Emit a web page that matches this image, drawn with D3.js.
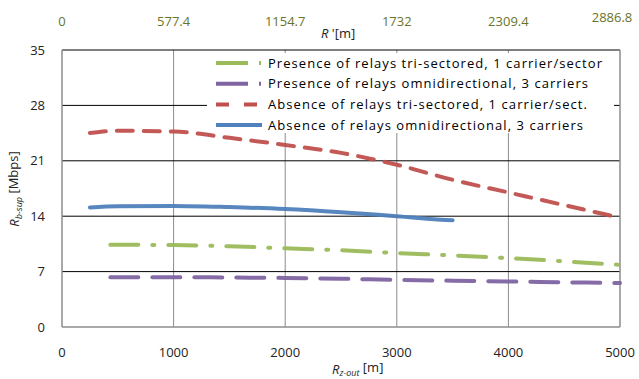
<!DOCTYPE html>
<html>
<head>
<meta charset="utf-8">
<script src="https://cdn.jsdelivr.net/npm/d3@7"></script>
<style>
  html, body { margin: 0; padding: 0; background: #fff; }
  svg { display: block; font-family: "Open Sans", "Liberation Sans", sans-serif; }
</style>
</head>
<body>
<svg id="chart" width="639" height="379"></svg>
<script>
// Distance to the zone edge (bottom axis) and equivalent cell radius (top axis)
const rValues = [250, 500, 1000, 1500, 2000, 2500, 3000, 3500, 4000, 4500, 5000];
const rRelayValues = [433, 1000, 1500, 2000, 2500, 3000, 3500, 4000, 4500, 5000];

// Throughput per series [Mbps]
const absTriSect = [24.5, 24.8, 24.7, 23.9, 23.0, 22.0, 20.5, 18.6, 17.0, 15.4, 13.8];
const absOmni = [15.1, 15.25, 15.3, 15.15, 14.9, 14.5, 14.0, 13.5];
const presTriSect = [10.4, 10.35, 10.2, 9.95, 9.7, 9.35, 9.05, 8.7, 8.3, 7.85];
const presOmni = [6.3, 6.3, 6.25, 6.2, 6.1, 5.95, 5.85, 5.75, 5.65, 5.55];

const xTicks = [0, 1000, 2000, 3000, 4000, 5000];
const yTicks = [0, 7, 14, 21, 28, 35];
const topTickLabels = ["0", "577.4", "1154.7", "1732", "2309.4", "2886.8"];

const series = [
  { name: "Presence of relays tri-sectored, 1 carrier/sector", xs: rRelayValues, ys: presTriSect, color: "#9bbb59", dash: "28,14,2,14", key: "32,11,2,14", width: 334 },
  { name: "Presence of relays omnidirectional, 3 carriers", xs: rRelayValues, ys: presOmni, color: "#8064a2", dash: "28,14", key: "32,11,2,14", width: 320 },
  { name: "Absence of relays tri-sectored, 1 carrier/sect.", xs: rValues, ys: absTriSect, color: "#c0504d", dash: "16,11", key: "13,15", width: 319 },
  { name: "Absence of relays omnidirectional, 3 carriers", xs: rValues, ys: absOmni, color: "#4f81bd", dash: null, key: null, width: 315 }
];

const svg = d3.select("#chart");
const margin = { left: 62, right: 19, top: 50, bottom: 52 };
const W = 639, H = 379;
const x = d3.scaleLinear().domain([0, 5000]).range([margin.left, W - margin.right]);
const y = d3.scaleLinear().domain([0, 35]).range([H - margin.bottom, margin.top]);

// vertical gridlines (gray)
svg.append("g").selectAll("line").data(xTicks.slice(1, -1)).join("line")
  .attr("x1", d => x(d)).attr("x2", d => x(d))
  .attr("y1", y(35)).attr("y2", y(0))
  .attr("stroke", "#8c8c8c").attr("stroke-width", 1);

// horizontal gridlines (black)
svg.append("g").selectAll("line").data(yTicks.slice(1)).join("line")
  .attr("x1", x(0)).attr("x2", x(5000))
  .attr("y1", d => y(d)).attr("y2", d => y(d))
  .attr("stroke", "#000").attr("stroke-width", 1);

// axis frame
svg.append("line").attr("x1", x(0)).attr("x2", x(0)).attr("y1", y(35)).attr("y2", y(0))
  .attr("stroke", "#8c8c8c").attr("stroke-width", 1.5);
svg.append("line").attr("x1", x(5000)).attr("x2", x(5000)).attr("y1", y(35)).attr("y2", y(0))
  .attr("stroke", "#8c8c8c").attr("stroke-width", 1.5);
svg.append("line").attr("x1", x(0)).attr("x2", x(5000)).attr("y1", y(0)).attr("y2", y(0))
  .attr("stroke", "#8c8c8c").attr("stroke-width", 1.5);

// legend box background hides gridlines behind it
const legend = svg.append("g");
legend.append("rect").attr("x", 207).attr("y", 53).attr("width", 407).attr("height", 80).attr("fill", "#fff");

// series lines
const line = d3.line().curve(d3.curveMonotoneX);
const plot = svg.append("g");
series.forEach(s => {
  plot.append("path")
    .attr("d", line(s.xs.map((v, i) => [x(v), y(s.ys[i])])))
    .attr("fill", "none")
    .attr("stroke", s.color)
    .attr("stroke-width", 4)
    .attr("stroke-dasharray", s.dash)
    .attr("stroke-linecap", "round")
    .attr("opacity", 0.95);
});

// legend entries
series.forEach((s, i) => {
  const ly = 63 + i * 20.7;
  legend.append("line")
    .attr("x1", 216).attr("x2", 262).attr("y1", ly).attr("y2", ly)
    .attr("stroke", s.color).attr("stroke-width", 4)
    .attr("stroke-dasharray", s.key)
    .attr("stroke-linecap", "butt");
  legend.append("text")
    .attr("x", 268).attr("y", ly).attr("dy", "0.35em")
    .attr("font-size", 13).attr("fill", "#000")
    .attr("textLength", s.width).attr("lengthAdjust", "spacing")
    .text(s.name);
});

// left tick labels
svg.append("g").selectAll("text").data(yTicks).join("text")
  .attr("x", 45).attr("y", d => y(d)).attr("dy", "0.35em")
  .attr("text-anchor", "end").attr("font-size", 13).attr("fill", "#222")
  .text(d => d);

// bottom tick labels
svg.append("g").selectAll("text").data(xTicks).join("text")
  .attr("x", d => x(d)).attr("y", 352).attr("dy", "0.35em")
  .attr("text-anchor", "middle").attr("font-size", 13).attr("fill", "#222")
  .text(d => d);

// top tick labels (equivalent radius)
svg.append("g").selectAll("text").data(topTickLabels).join("text")
  .attr("x", (d, i) => i === 5 ? 612 : x(xTicks[i]))
  .attr("y", (d, i) => i === 5 ? 17 : 21).attr("dy", "0.35em")
  .attr("text-anchor", "middle").attr("font-size", 13).attr("fill", "#6a7428")
  .text(d => d);

// top axis title
const tt = svg.append("text").attr("x", 321).attr("y", 33).attr("dy", "0.35em")
  .attr("font-size", 13).attr("fill", "#222");
tt.append("tspan").attr("font-style", "italic").text("R");
tt.append("tspan").text(" '[m]");

// bottom axis title
const bt = svg.append("text").attr("x", 332).attr("y", 369).attr("dy", "0.35em")
  .attr("font-size", 13).attr("fill", "#222");
bt.append("tspan").attr("font-style", "italic").text("R");
bt.append("tspan").attr("font-style", "italic").attr("font-size", 9).attr("dy", "0.3em").text("z-out");
bt.append("tspan").attr("dy", "-0.3em").text(" [m]");

// left axis title
const lt = svg.append("text").attr("transform", "translate(19,189) rotate(-90)")
  .attr("text-anchor", "middle").attr("font-size", 13).attr("fill", "#222");
lt.append("tspan").attr("font-style", "italic").text("R");
lt.append("tspan").attr("font-style", "italic").attr("font-size", 9).attr("dy", "0.3em").text("b-sup");
lt.append("tspan").attr("dy", "-0.3em").text(" [Mbps]");
</script>
</body>
</html>
